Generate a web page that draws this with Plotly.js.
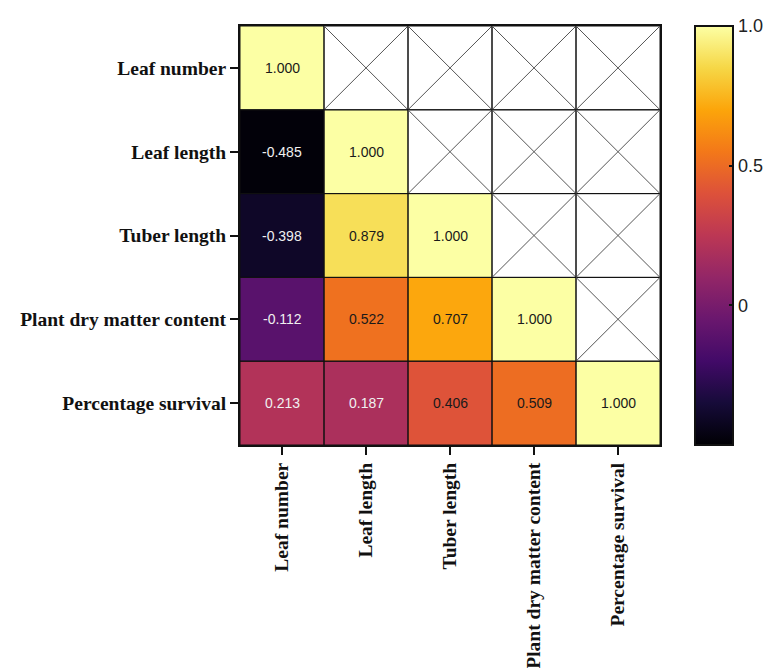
<!DOCTYPE html>
<html>
<head>
<meta charset="utf-8">
<script src="https://cdn.plot.ly/plotly-3.0.1.min.js"></script>
<style>html,body{margin:0;padding:0;background:#fff;}</style>
</head>
<body>
<div id="chart" style="width:777px;height:668px;"></div>
<script>
// Variables (rows top->bottom, columns left->right)
const variables = ["Leaf number", "Leaf length", "Tuber length", "Plant dry matter content", "Percentage survival"];

// Lower-triangle correlation rows (null = upper triangle, crossed out)
const rowLeafNumber      = [1.000, null,  null,  null,  null];
const rowLeafLength      = [-0.485, 1.000, null, null,  null];
const rowTuberLength     = [-0.398, 0.879, 1.000, null, null];
const rowPlantDryMatter  = [-0.112, 0.522, 0.707, 1.000, null];
const rowPercentSurvival = [0.213, 0.187, 0.406, 0.509, 1.000];

const colorbarTicks = [0, 0.5, 1.0];
const colorbarTickText = ["0", "0.5", "1.0"];

const z = [rowLeafNumber, rowLeafLength, rowTuberLength, rowPlantDryMatter, rowPercentSurvival];

const inferno = [
  [0.0, "#000004"], [0.1, "#160b39"], [0.2, "#420a68"], [0.3, "#6a176e"],
  [0.4, "#932667"], [0.5, "#bc3754"], [0.6, "#dd513a"], [0.7, "#f37819"],
  [0.8, "#fca50a"], [0.9, "#f6d746"], [1.0, "#fcffa4"]
];

const n = variables.length;
const shapes = [];
const annotations = [];
for (let r = 0; r < n; r++) {
  for (let c = 0; c < n; c++) {
    shapes.push({type: "rect", xref: "x", yref: "y",
      x0: c - 0.5, x1: c + 0.5, y0: r - 0.5, y1: r + 0.5,
      line: {color: "#111", width: 1}, layer: "above"});
    const v = z[r][c];
    if (v === null) {
      shapes.push({type: "line", xref: "x", yref: "y", x0: c - 0.5, x1: c + 0.5, y0: r - 0.5, y1: r + 0.5,
        line: {color: "#555", width: 1}});
      shapes.push({type: "line", xref: "x", yref: "y", x0: c - 0.5, x1: c + 0.5, y0: r + 0.5, y1: r - 0.5,
        line: {color: "#555", width: 1}});
    } else {
      annotations.push({xref: "x", yref: "y", x: c, y: r, text: v.toFixed(3), showarrow: false,
        font: {family: "Liberation Sans, Arial, sans-serif", size: 14, color: v < 0.3 ? "#f0f0f0" : "#1a1a1a"}});
    }
  }
}

const trace = {
  type: "heatmap",
  x: variables.map((_, i) => i),
  y: variables.map((_, i) => i),
  z: z,
  zmin: -0.5, zmax: 1.0,
  colorscale: inferno,
  hoverongaps: false,
  colorbar: {
    x: 1.083, xanchor: "left", xref: "paper",
    y: 0.5, yanchor: "middle", len: 1.0, lenmode: "fraction",
    thickness: 38, thicknessmode: "pixels",
    outlinewidth: 2, outlinecolor: "#111",
    tickvals: colorbarTicks, ticktext: colorbarTickText,
    ticks: "inside", ticklen: 5, tickwidth: 2, tickcolor: "#111",
    tickfont: {family: "Liberation Sans, Arial, sans-serif", size: 18, color: "#222"},
    xpad: 0, ypad: 0
  }
};

const axisFont = {family: "Liberation Serif, Times New Roman, serif", size: 19.5, color: "#111", weight: "bold"};

const layout = {
  width: 777, height: 668,
  margin: {l: 240, r: 117, t: 26, b: 223, autoexpand: false},
  paper_bgcolor: "#fff", plot_bgcolor: "#fff",
  showlegend: false,
  xaxis: {
    tickvals: variables.map((_, i) => i), ticktext: variables,
    range: [-0.5, n - 0.5], tickangle: -90,
    ticks: "outside", ticklen: 8, tickwidth: 2, tickcolor: "#111",
    showline: true, linewidth: 2, linecolor: "#111", mirror: true,
    showgrid: false, zeroline: false, tickfont: axisFont, automargin: false
  },
  yaxis: {
    tickvals: variables.map((_, i) => i), ticktext: variables,
    range: [n - 0.5, -0.5],
    ticks: "outside", ticklen: 8, tickwidth: 2, tickcolor: "#111",
    showline: true, linewidth: 2, linecolor: "#111", mirror: true,
    showgrid: false, zeroline: false, tickfont: axisFont, automargin: false
  },
  shapes: shapes,
  annotations: annotations
};

Plotly.newPlot("chart", [trace], layout, {displayModeBar: false, staticPlot: true});
</script>
</body>
</html>
